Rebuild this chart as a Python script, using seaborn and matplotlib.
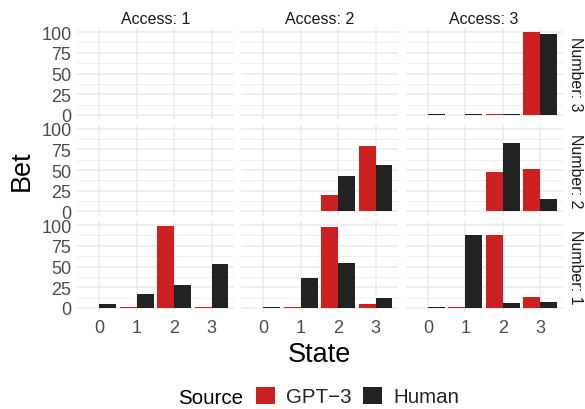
import pandas as pd
import matplotlib
matplotlib.use("Agg")
import matplotlib.pyplot as plt
from matplotlib.patches import Patch
from matplotlib.ticker import MultipleLocator
import seaborn as sns

# ---- data -------------------------------------------------------------
states = [0, 1, 2, 3]
access_levels = [1, 2, 3]          # facet columns
number_levels = [3, 2, 1]          # facet rows, top to bottom
sources = ["GPT\u22123", "Human"]
source_colors = ["#CD2121", "#222222"]
y_ticks = [0, 25, 50, 75, 100]

# mean bet per state for each (Access, Number) combination
gpt_a1_n1 = [0.3, 1.0, 99.0, 1.5]
human_a1_n1 = [5.0, 17.0, 28.0, 53.0]

gpt_a2_n1 = [0.3, 1.0, 97.5, 5.0]
human_a2_n1 = [1.0, 36.0, 54.0, 11.5]
gpt_a2_n2 = [0.3, 0.3, 20.0, 79.5]
human_a2_n2 = [0.6, 0.6, 43.0, 56.5]

gpt_a3_n1 = [0.3, 1.0, 87.5, 13.5]
human_a3_n1 = [1.0, 87.5, 6.0, 7.5]
gpt_a3_n2 = [0.3, 0.3, 48.0, 51.5]
human_a3_n2 = [0.6, 0.6, 83.0, 15.5]
gpt_a3_n3 = [0.3, 0.3, 0.7, 100.0]
human_a3_n3 = [1.2, 0.6, 1.2, 97.5]

panels = {
    (1, 1): (gpt_a1_n1, human_a1_n1),
    (2, 1): (gpt_a2_n1, human_a2_n1),
    (2, 2): (gpt_a2_n2, human_a2_n2),
    (3, 1): (gpt_a3_n1, human_a3_n1),
    (3, 2): (gpt_a3_n2, human_a3_n2),
    (3, 3): (gpt_a3_n3, human_a3_n3),
}

records = []
for (acc, num), series in panels.items():
    for src, vals in zip(sources, series):
        for s, v in zip(states, vals):
            records.append({"Access": acc, "Number": num, "State": s,
                            "Source": src, "Bet": v})
df = pd.DataFrame(records)

# ---- style ------------------------------------------------------------
sns.set_theme(style="white")
plt.rcParams["font.family"] = ["Liberation Sans", "DejaVu Sans"]

W, H = 585, 410
fig = plt.figure(figsize=(W / 100, H / 100), dpi=100, facecolor="white")


def fx(px):
    return px / W


def fy(py):
    return 1 - py / H


col_left = [77, 241, 405.5]
row_top = [29, 125.5, 222]
pw, ph = 157, 91
grid_col = "#EBEBEB"
tick_col = "#4D4D4D"
strip_col = "#1A1A1A"
tick_size = 13
strip_size = 11.5
title_size = 19.5
legend_size = 14.8

for i, num in enumerate(number_levels):
    for j, acc in enumerate(access_levels):
        ax = fig.add_axes([fx(col_left[j]), fy(row_top[i] + ph), pw / W, ph / H])
        sub = df[(df["Access"] == acc) & (df["Number"] == num)]
        if len(sub):
            sns.barplot(data=sub, x="State", y="Bet", hue="Source",
                        order=states, hue_order=sources, palette=source_colors,
                        width=0.9, saturation=1, errorbar=None, legend=False,
                        linewidth=0, ax=ax)
        ax.set_xlim(-0.6, 3.6)
        ax.set_ylim(-5, 105)
        ax.set_xticks(range(len(states)))
        ax.set_xticklabels([str(s) for s in states])
        ax.set_yticks(y_ticks)
        ax.set_yticklabels([str(t) for t in y_ticks])
        ax.yaxis.set_minor_locator(MultipleLocator(12.5))
        ax.set_axisbelow(True)
        ax.grid(True, which="major", axis="both", color=grid_col, linewidth=1.1)
        ax.grid(True, which="minor", axis="y", color=grid_col, linewidth=0.55)
        for sp in ax.spines.values():
            sp.set_visible(False)
        ax.set_xlabel("")
        ax.set_ylabel("")
        ax.tick_params(axis="both", which="both", length=0, labelsize=tick_size,
                       colors=tick_col)
        ax.tick_params(axis="x", pad=5.0)
        ax.tick_params(axis="y", pad=4.0)
        if j != 0:
            ax.tick_params(axis="y", labelleft=False)
        if i != len(number_levels) - 1:
            ax.tick_params(axis="x", labelbottom=False)
        ax.set_facecolor("white")

        if i == 0:
            fig.text(fx(col_left[j] + pw / 2), fy(24), f"Access: {acc}",
                     ha="center", va="baseline", fontsize=strip_size,
                     color=strip_col)
        if j == len(access_levels) - 1:
            fig.text(fx(575.5), fy(row_top[i] + ph / 2), f"Number: {num}",
                     ha="center", va="center", rotation=270,
                     fontsize=strip_size, color=strip_col)

# axis titles
fig.text(fx(22), fy(171), "Bet", rotation=90, ha="center", va="center",
         fontsize=title_size, color="black")
fig.text(fx(319.5), fy(362), "State", ha="center", va="baseline",
         fontsize=title_size, color="black")

# legend
fig.text(fx(178), fy(404), "Source", ha="left", va="baseline",
         fontsize=legend_size, color="black")
handles = [Patch(facecolor=c, edgecolor="none", label=s)
           for s, c in zip(sources, source_colors)]
fig.legend(handles=handles, loc="center left",
           bbox_to_anchor=(fx(256), fy(397.5)), ncol=2, frameon=False,
           fontsize=legend_size, handlelength=0.92, handleheight=0.92,
           handletextpad=0.53, columnspacing=0.58, borderpad=0,
           borderaxespad=0)

fig.savefig("out.png", dpi=100, facecolor="white")
